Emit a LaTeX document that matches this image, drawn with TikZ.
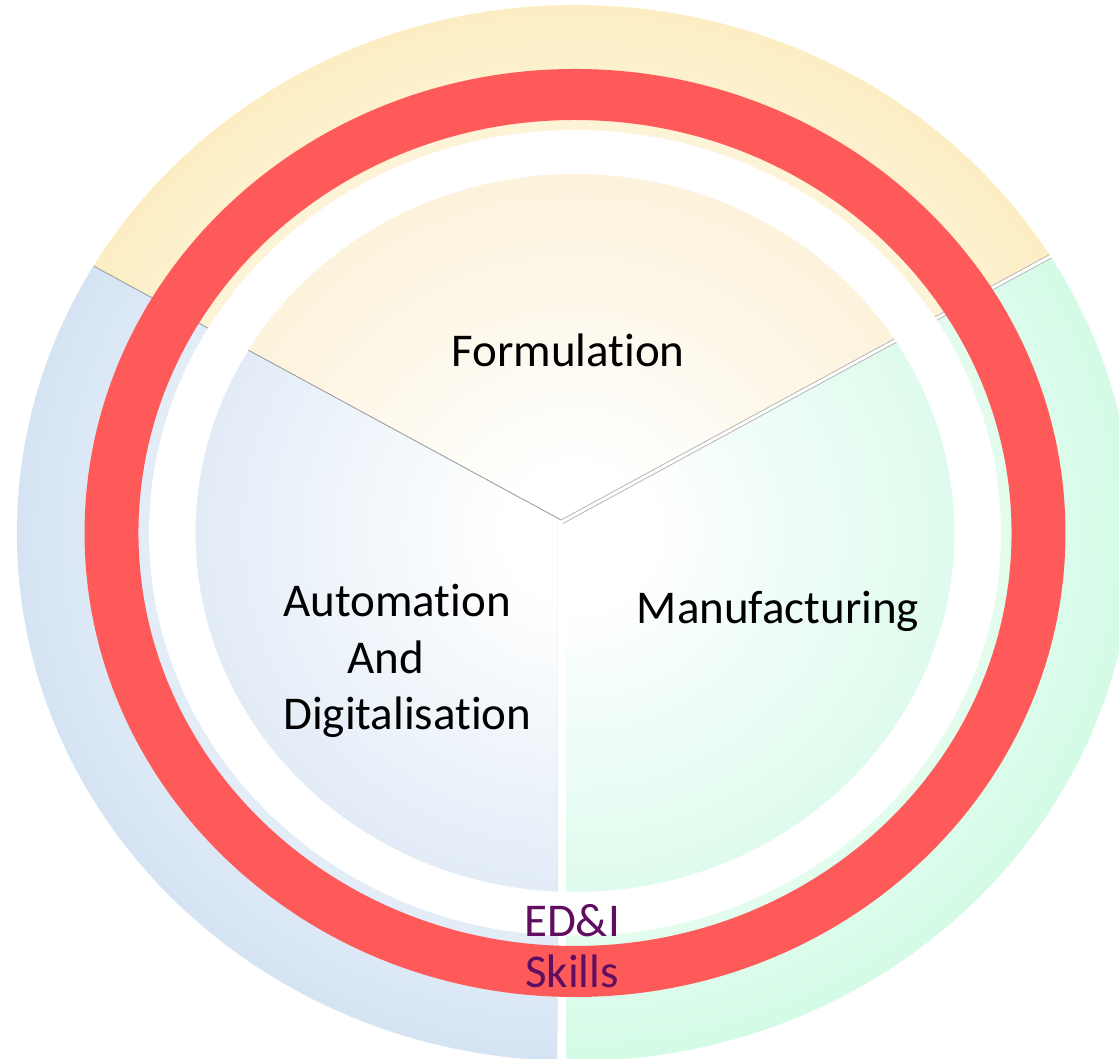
\documentclass[tikz,border=0pt]{standalone}
\usepackage{fontspec}
\setmainfont{Carlito}[Ligatures=NoCommon]
\definecolor{ringred}{HTML}{FF5A5A}
\definecolor{yring}{HTML}{FCEDC3}
\definecolor{ypie}{HTML}{FDF2DB}
\definecolor{bring}{HTML}{D5E4F3}
\definecolor{bpie}{HTML}{E2ECF7}
\definecolor{gring}{HTML}{D4FBE6}
\definecolor{gpie}{HTML}{DEFBED}
\definecolor{edi}{HTML}{600F60}
\definecolor{divgray}{HTML}{9A9A9A}
\newcommand\paintsector[2]{%
  \begin{scope}[shift={(575,526)},xscale=1.057]
    \foreach \k in {0,...,25}{%
      \pgfmathtruncatemacro\rr{528-5*\k}%
      \pgfmathtruncatemacro\pp{100-1.4*\k}%
      \fill[#1!\pp!white] (0,0) circle (\rr);
    }
    \foreach \k in {0,...,70}{%
      \pgfmathtruncatemacro\rr{359-5*\k}%
      \pgfmathtruncatemacro\pp{max(0,min(100,(\rr-70)/2.89))}%
      \fill[#2!\pp!white] (0,0) circle (\rr);
    }
  \end{scope}}
\tikzset{
  lbl/.style={inner sep=0pt, font=\fontsize{47}{56.5}\selectfont, text=black},
  edilbl/.style={inner sep=0pt, font=\fontsize{47}{51}\selectfont, text=edi, align=center},
  divline/.style={draw=divgray, line width=0.8pt},
  divlight/.style={draw=divgray!70, line width=0.8pt}
}
\begin{document}
\begin{tikzpicture}[x=1pt,y=1pt]
\useasboundingbox (0,0) rectangle (1119,1059);
\clip (0,0) rectangle (1119,1059);
\coordinate (V) at (561,539);
\coordinate (C) at (575,526);
% top sector (Formulation)
\begin{scope}
  \clip (561,539) -- (-757,1255) -- (561,2000) -- (1879,1255) -- cycle;
  \paintsector{yring}{ypie}
\end{scope}
% left sector (Automation)
\begin{scope}
  \clip (561,539) -- (-757,1255) -- (-800,-800) -- (557,-800) -- (557,539) -- cycle;
  \paintsector{bring}{bpie}
\end{scope}
% right sector (Manufacturing)
\begin{scope}
  \clip (566,-800) -- (566,537.2) -- (1881,1252) -- (1900,-800) -- cycle;
  \paintsector{gring}{gpie}
\end{scope}
% divider lines
\begin{scope}
  \clip (C) ellipse [x radius=558, y radius=528];
  \coordinate (L) at (-757,1255);
  \coordinate (R) at (1879,1255);
  \coordinate (V2) at (562.9,535.5);
  \coordinate (R2) at (1881,1252);
  \draw[divline] (V) -- (L);
  \draw[divlight] (V) -- (R);
  \draw[divlight] (V2) -- (R2);
\end{scope}
% white gap and red ring
\begin{scope}[shift={(575,526)},xscale=1.057]
  \fill[white, even odd rule] (0,0) circle (403) (0,0) circle (359);
  \fill[ringred, even odd rule] (0,0) circle (464) (0,0) circle (413);
\end{scope}
% labels
\node[lbl, anchor=base] (form) at (568,692) {Formulation};
\node[lbl, anchor=base] (manu) at (778,435) {Manufacturing};
\node[lbl, anchor=base west, align=left] (auto) at (283,329) {Automation\\\hspace*{64pt}And\\Digitalisation};
\node[edilbl, anchor=base] (edi) at (572,71) {ED\&I\\Skills};
\end{tikzpicture}
\end{document}
